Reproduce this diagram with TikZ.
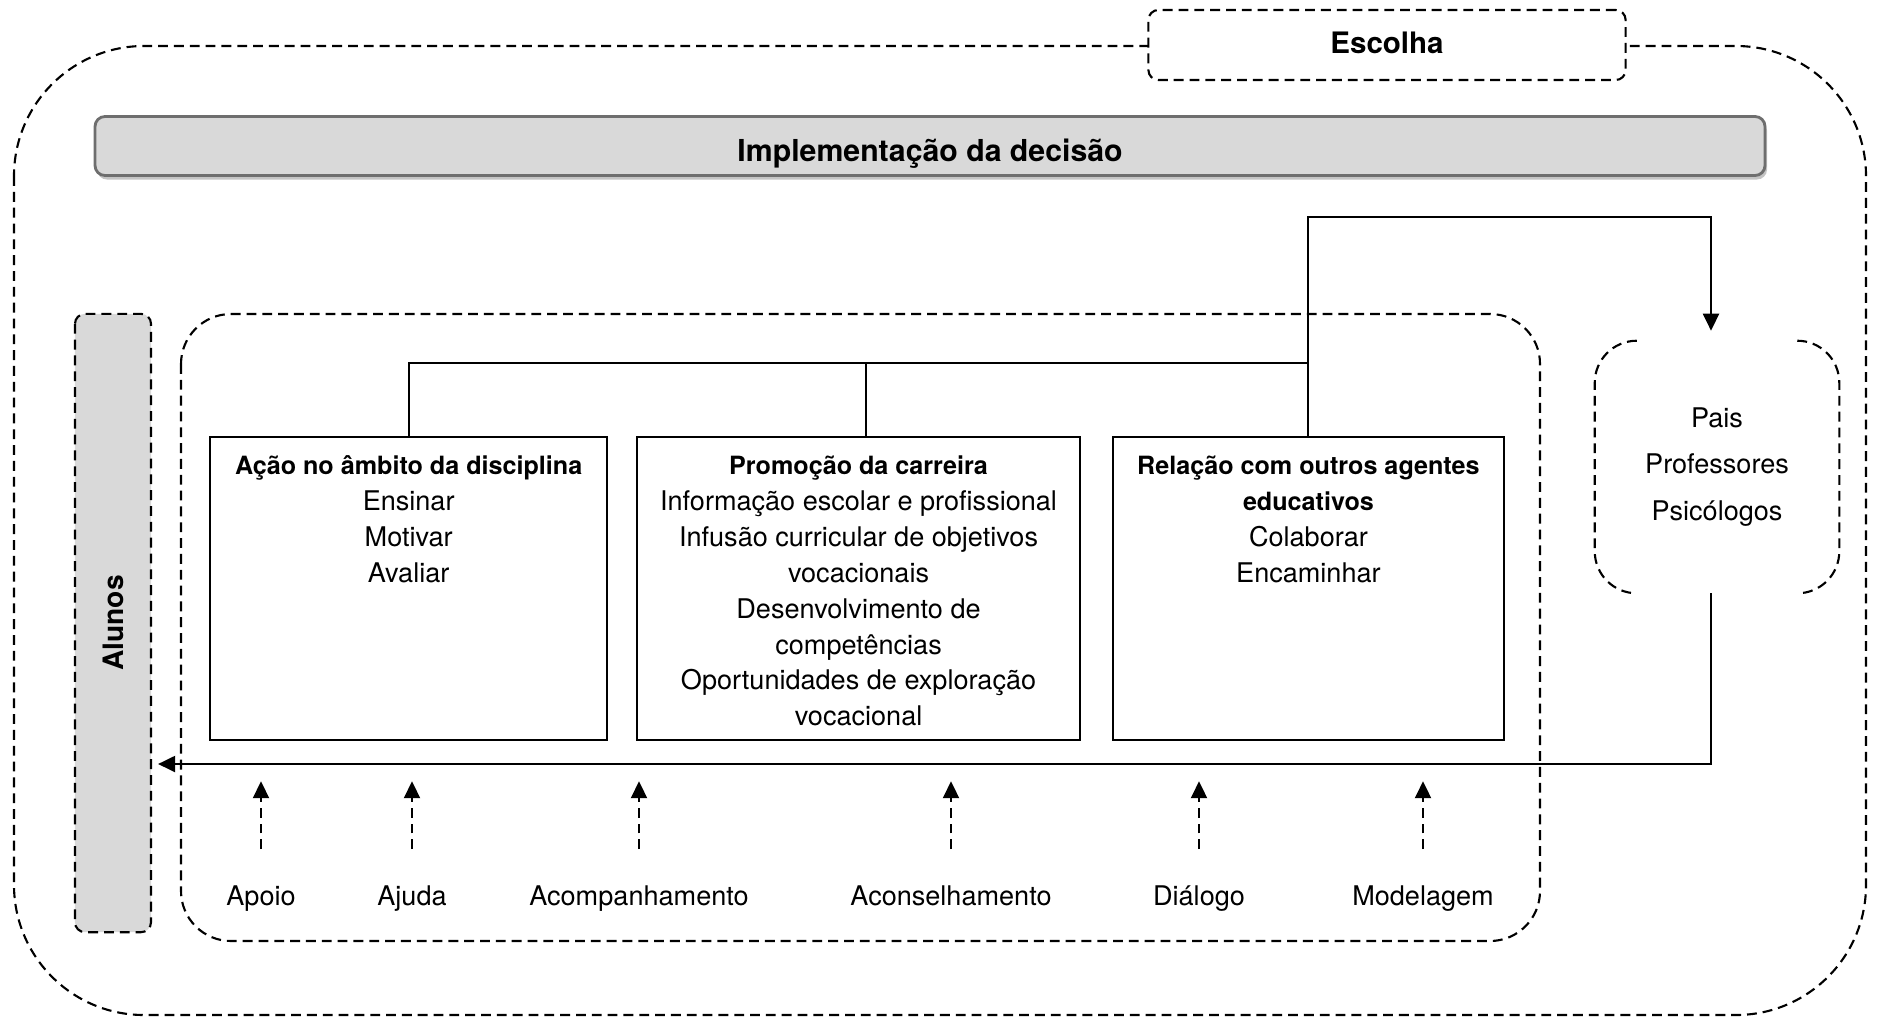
\documentclass[tikz,border=0pt]{standalone}
\usepackage{fontspec}
\setmainfont{TeX Gyre Heros}
\usepackage{tikz}
\usetikzlibrary{arrows.meta,positioning,shadows}
\definecolor{ink}{HTML}{000000}
\definecolor{panel}{HTML}{D9D9D9}
\definecolor{rim}{HTML}{6E6E6E}
\definecolor{shade}{HTML}{C4C4C4}
\newcommand{\txtbody}{\fontsize{7.7}{10.2}\selectfont}
\newcommand{\txthead}[1]{{\fontsize{7.15}{10.2}\selectfont\bfseries #1}}
\newcommand{\boxtext}[2]{\begin{minipage}[t][3.03cm][t]{#1}\centering\txtbody\rule{0pt}{10.7pt}#2\end{minipage}}
\tikzset{
  zone/.style={draw=ink,dash pattern=on 2.8pt off 1.7pt,line width=0.6pt},
  tag/.style={zone,fill=white,rounded corners=1mm,font=\fontsize{8.4}{10}\selectfont\bfseries},
  banner/.style={draw=rim,line width=0.8pt,fill=panel,rounded corners=1mm,font=\fontsize{8.6}{10}\selectfont\bfseries,
    text height=9pt,text depth=0pt,
    drop shadow={shadow xshift=0.02cm,shadow yshift=-0.04cm,opacity=1,fill=shade}},
  side/.style={zone,fill=panel,rounded corners=1mm,font=\fontsize{8}{10}\selectfont\bfseries},
  actbox/.style={draw=ink,line width=0.6pt,inner sep=0pt,anchor=north west},
  link/.style={line width=0.6pt,draw=ink},
  flow/.style={-{Triangle[length=1.7mm,width=1.6mm]},line width=0.6pt,draw=ink},
  dflow/.style={flow,dash pattern=on 2.8pt off 1.7pt},
  lbl/.style={font=\txtbody,text height=6pt,text depth=2pt,inner sep=0pt}
}
\begin{document}
\begin{tikzpicture}[x=0.01cm,y=-0.01cm]
  \useasboundingbox (0,0) rectangle (1880,1018);
  % zones
  \draw[zone,rounded corners=1.3cm] (14,46) rectangle (1866,1015);
  \draw[zone,rounded corners=0.5cm] (181,314) rectangle (1540,941);
  \node[tag,minimum width=4.77cm,minimum height=0.7cm,text height=6.5pt,text depth=1.5pt] (escolha) at (1387,45) {Escolha};
  \node[banner,minimum width=16.69cm,minimum height=0.59cm] (impl) at (930,146) {Implementação da decisão};
  \node[side,rotate=90,minimum width=6.18cm,minimum height=0.76cm] (alunos) at (113,623) {Alunos};
  % action boxes
  \node[actbox] (b1) at (209,436) {\boxtext{3.97cm}{\txthead{Ação no âmbito da disciplina}\\Ensinar\\Motivar\\Avaliar}};
  \node[actbox,right=0.275cm of b1] (b2) {\boxtext{4.43cm}{\txthead{Promoção da carreira}\\Informação escolar e profissional\\Infusão curricular de objetivos\\vocacionais\\Desenvolvimento de\\competências\\Oportunidades de exploração\\vocacional}};
  \node[actbox,right=0.305cm of b2] (b3) {\boxtext{3.91cm}{\txthead{Relação com outros agentes\\educativos}\\Colaborar\\Encaminhar}};
  % agents
  \node[font=\fontsize{7.7}{13.2}\selectfont,align=center,minimum width=2.43cm,minimum height=2.51cm] (pais) at (1717,467) {Pais\\Professores\\Psicólogos};
  \draw[zone,rounded corners=0.42cm] ([xshift=0.42cm]pais.north west) -- (pais.north west) -- (pais.south west) -- ([xshift=0.42cm]pais.south west);
  \draw[zone,rounded corners=0.42cm] ([xshift=-0.42cm]pais.north east) -- (pais.north east) -- (pais.south east) -- ([xshift=-0.42cm]pais.south east);
  \coordinate (bus) at (0,363);
  \coordinate (top) at (0,217);
  \coordinate (ret) at (0,764);
  \draw[link] (b1.north) -- (b1.north |- bus) -- (b3.north |- bus);
  \draw[link] ([xshift=0.07cm]b2.north) -- ([xshift=0.07cm]b2.north |- bus);
  \draw[flow,shorten >=0.1cm] (b3.north) -- (b3.north |- top) -| ([xshift=-0.06cm]pais.north);
  \draw[flow,shorten >=0.06cm] ([xshift=-0.06cm]pais.south) |- (alunos.south |- ret);
  % modes
  \node[lbl] (apoio) at (261,898) {Apoio};
  \node[lbl] (ajuda) at (412,898) {Ajuda};
  \node[lbl] (acomp) at (639,898) {Acompanhamento};
  \node[lbl] (acons) at (951,898) {Aconselhamento};
  \node[lbl] (dialogo) at (1199,898) {Diálogo};
  \node[lbl] (modelo) at (1423,898) {Modelagem};
  \foreach \m in {apoio,ajuda,acomp,acons,dialogo,modelo}
    \draw[dflow] ([yshift=0.34cm]\m.north) -- ++(0,-68);
\end{tikzpicture}
\end{document}
